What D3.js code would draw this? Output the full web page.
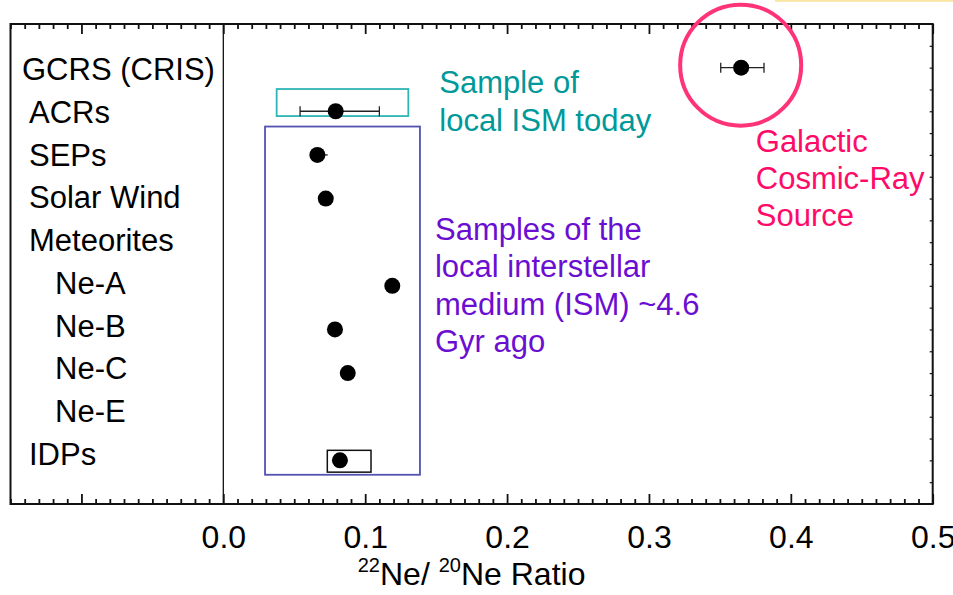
<html>
<head>
<script src="https://d3js.org/d3.v7.min.js"></script>
<style>
  body { margin: 0; background: #fff; font-family: 'Liberation Sans', Arial, sans-serif; }
  svg text { font-family: 'Liberation Sans', Arial, sans-serif; }
</style>
</head>
<body>
<svg id="vis" width="953" height="595"></svg>
<script>

// data
categories = ['GCRS (CRIS)', 'ACRs', 'SEPs', 'Solar Wind', 'Meteorites', 'Ne-A', 'Ne-B', 'Ne-C', 'Ne-E', 'IDPs']
level      = [0, 1, 1, 1, 1, 2, 2, 2, 2, 1]
ratio      = [0.365, 0.0792, 0.0663, 0.0722, null, 0.1191, 0.0787, 0.0877, null, 0.0822]
errLow     = [0.3506, 0.0541, 0.0610, null, null, null, null, null, null, null]
errHigh    = [0.3811, 0.1100, 0.0736, null, null, null, null, null, null, null]
errCaps    = [true, true, false, false, false, false, false, false, false, false]

xTicks = [-0.1, 0.0, 0.1, 0.2, 0.3, 0.4, 0.5]

// boxes in data units: x range and row range
boxX0   = [0.0376, 0.0294, 0.0733]
boxX1   = [0.1304, 0.1386, 0.1041]
boxR0   = [0.49, 1.35, 8.77]
boxR1   = [1.11, 9.33, 9.27]
boxCol  = ['#2fb5b5', '#5252b2', '#111']

notes = [
  {x: 0.1522, r: 0.59, lines: ['Sample of', 'local ISM today'], col: '#00999a'},
  {x: 0.1492, r: 3.95, lines: ['Samples of the', 'local interstellar', 'medium (ISM) ~4.6', 'Gyr ago'], col: '#6a0ed2'},
  {x: 0.3753, r: 1.93, lines: ['Galactic', 'Cosmic-Ray', 'Source'], col: '#ff0a68'}
]

var svg = d3.select('#vis')

var L = 10.5, R = 932.7, T = 24, B = 504

var x = d3.scaleLinear().domain([-0.15, 0.5]).range([L, R])
var y = d3.scaleLinear().domain([-1, 10]).range([T, B])
var yLab = d3.scaleLinear().domain([0, 9]).range([80, 465])

// faint yellow strip from the slide above
svg.append('rect').attr('x', 775).attr('y', 0).attr('width', 178).attr('height', 1.8)
  .style('fill', '#f9e6a4')

var minor = d3.range(-15, 51).filter(i => i % 10 != 0).map(i => i / 100)
var fmt = d3.format('.1f')

function xAxis(axisFn, yPos, labels)
{
  var gMaj = svg.append('g').attr('transform', `translate(0,${yPos})`)
    .call(axisFn(x).tickValues(xTicks).tickSize(-10).tickPadding(21)
      .tickFormat(d => labels && d >= 0 ? fmt(d) : ''))
  var gMin = svg.append('g').attr('transform', `translate(0,${yPos})`)
    .call(axisFn(x).tickValues(minor).tickSize(-5).tickFormat(''))
  ;[gMaj, gMin].forEach(g => {
    g.select('.domain').remove()
    g.selectAll('line').style('stroke', '#111').style('stroke-width', 1.8)
  })
  gMaj.selectAll('text').style('font-size', '32px').style('fill', '#000')
}

xAxis(d3.axisBottom, B, true)
xAxis(d3.axisTop, T, false)

// little ticks on the right edge
var gR = svg.append('g').attr('transform', `translate(${R},0)`)
  .call(d3.axisRight(y).tickValues(d3.range(-0.5, 10, 0.5)).tickSize(-3).tickFormat(''))
gR.select('.domain').remove()
gR.selectAll('line').style('stroke', '#111').style('stroke-width', 1.2)

// frame
svg.append('rect')
  .attr('x', L).attr('y', T).attr('width', R - L).attr('height', B - T)
  .style('fill', 'none').style('stroke', '#111').style('stroke-width', 2)

// zero line
svg.append('line')
  .attr('x1', x(0)).attr('x2', x(0)).attr('y1', T).attr('y2', B)
  .style('stroke', '#111').style('stroke-width', 1.3)

// row labels
var indent = [22, 29, 55]
svg.selectAll('.cat').data(categories).enter().append('text')
  .attr('x', (d, i) => indent[level[i]])
  .attr('y', (d, i) => yLab(i))
  .text(d => d)
  .style('font-size', '31px')
  .style('fill', '#000')

// boxes
boxX0.forEach((v, i) => {
  svg.append('rect')
    .attr('x', x(v)).attr('y', y(boxR0[i]))
    .attr('width', x(boxX1[i]) - x(v)).attr('height', y(boxR1[i]) - y(boxR0[i]))
    .style('fill', 'none').style('stroke', boxCol[i]).style('stroke-width', i == 2 ? 1.5 : 1.8)
})

// error bars
categories.forEach((c, i) => {
  if (errLow[i] == null) return
  svg.append('line')
    .attr('x1', x(errLow[i])).attr('x2', x(errHigh[i]))
    .attr('y1', y(i)).attr('y2', y(i))
    .style('stroke', '#222').style('stroke-width', 1.3)
  if (!errCaps[i]) return
  ;[errLow[i], errHigh[i]].forEach(v => {
    svg.append('line')
      .attr('x1', x(v)).attr('x2', x(v))
      .attr('y1', y(i) - 5).attr('y2', y(i) + 5)
      .style('stroke', '#222').style('stroke-width', 1.3)
  })
})

// points
svg.selectAll('.pt').data(ratio.map((v, i) => [v, i]).filter(d => d[0] != null))
  .enter().append('circle')
  .attr('cx', d => x(d[0]))
  .attr('cy', d => y(d[1]))
  .attr('r', 8)
  .style('fill', '#000')

// ring around the cosmic-ray source point
svg.append('circle')
  .attr('cx', x(ratio[0]) - 0.5).attr('cy', y(0) - 2.5).attr('r', 60.5)
  .style('fill', 'none').style('stroke', '#ff3377').style('stroke-width', 4)

// annotations
notes.forEach(n => {
  n.lines.forEach((s, k) => {
    svg.append('text')
      .attr('x', x(n.x))
      .attr('y', y(n.r) + k * 37.3)
      .text(s)
      .style('font-size', '31px')
      .style('fill', n.col)
  })
})

// axis title
var t = svg.append('text')
  .attr('x', (L + R) / 2)
  .attr('y', 585)
  .style('text-anchor', 'middle')
  .style('font-size', '32px')
  .style('fill', '#000')
t.append('tspan').text('22').style('font-size', '20px').attr('dy', -13)
t.append('tspan').text('Ne/ ').attr('dy', 13)
t.append('tspan').text('20').style('font-size', '20px').attr('dy', -13)
t.append('tspan').text('Ne Ratio').attr('dy', 13)

</script>
</body>
</html>
